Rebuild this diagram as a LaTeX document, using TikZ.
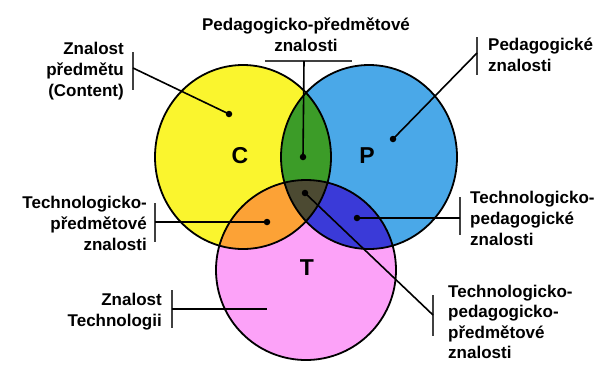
\documentclass[tikz,border=0pt]{standalone}
\usepackage{fontspec}
\setmainfont{Liberation Sans}
\definecolor{cyel}{HTML}{FAF52E}
\definecolor{cblu}{HTML}{4AA8E8}
\definecolor{cpnk}{HTML}{FCA2F8}
\definecolor{cgrn}{HTML}{3C9C28}
\definecolor{corg}{HTML}{FCA236}
\definecolor{cdbl}{HTML}{3A3AD8}
\definecolor{cdrk}{HTML}{4C4A32}
\begin{document}
\begin{tikzpicture}[x=1pt,y=-1pt,
  lbl/.style={font=\bfseries\fontsize{17}{21}\selectfont, inner sep=0pt},
  bar/.style={line width=1.2pt, black!75},
  leader/.style={line width=1.6pt, black},
  outline/.style={line width=1.8pt, black},
  dotn/.style={circle, fill=black, inner sep=0pt, minimum size=6.5pt},
  big/.style={font=\bfseries\fontsize{23}{23}\selectfont, inner sep=0pt}]
\useasboundingbox[fill=white] (0,0) rectangle (604,365);

% base circles
\fill[cyel] (243,157) ellipse [x radius=88pt, y radius=92pt];
\fill[cblu] (369,157) ellipse [x radius=88pt, y radius=92pt];
\fill[cpnk] (306,270) ellipse [x radius=90pt, y radius=90pt];

% overlaps
\begin{scope}
  \clip (243,157) ellipse [x radius=88pt, y radius=92pt];
  \fill[cgrn] (369,157) ellipse [x radius=88pt, y radius=92pt];
  \fill[corg] (306,270) ellipse [x radius=90pt, y radius=90pt];
\end{scope}
\begin{scope}
  \clip (369,157) ellipse [x radius=88pt, y radius=92pt];
  \fill[cdbl] (306,270) ellipse [x radius=90pt, y radius=90pt];
  \clip (243,157) ellipse [x radius=88pt, y radius=92pt];
  \fill[cdrk] (306,270) ellipse [x radius=90pt, y radius=90pt];
\end{scope}

% outlines
\draw[outline] (243,157) ellipse [x radius=88pt, y radius=92pt];
\draw[outline] (369,157) ellipse [x radius=88pt, y radius=92pt];
\draw[outline] (306,270) ellipse [x radius=90pt, y radius=90pt];

% big letters
\node[big] (lC) at (240,156) {C};
\node[big] (lP) at (367,156) {P};
\node[big] (lT) at (307,268) {T};

% texts
\node[lbl, align=right, anchor=east] (tC) at (124,71) {Znalost\\předmětu\\(Content)};
\node[lbl, align=center] (tCP) at (306,35) {Pedagogicko-předmětové\\znalosti};
\node[lbl, align=left, anchor=west] (tP) at (488,55) {Pedagogické\\znalosti};
\node[lbl, align=right, anchor=east] (tCT) at (147,223) {Technologicko-\\předmětové\\znalosti};
\node[lbl, align=left, anchor=west] (tPT) at (470,218) {Technologicko-\\pedagogické\\znalosti};
\node[lbl, align=right, anchor=east] (tT) at (162,312) {Znalost\\Technologii};
\node[lbl, font=\bfseries\fontsize{17}{20.5}\selectfont, align=left, anchor=west] (tCPT) at (448,322) {Technologicko-\\pedagogicko-\\předmětové\\znalosti};

% bars and attachment points
\coordinate (bCa) at (133,52);  \coordinate (bCb) at (133,90);  \coordinate (aC) at (133,68);
\coordinate (bCPa) at (265,61); \coordinate (bCPb) at (352,61); \coordinate (aCP) at (304,61);
\coordinate (bPa) at (477,37);  \coordinate (bPb) at (477,75);  \coordinate (aP) at (477,53);
\coordinate (bCTa) at (155,203); \coordinate (bCTb) at (155,242); \coordinate (aCT) at (155,222);
\coordinate (bPTa) at (460,197); \coordinate (bPTb) at (460,235); \coordinate (aPT) at (460,218);
\coordinate (bTa) at (172,290); \coordinate (bTb) at (172,328); \coordinate (aT) at (172,309);
\coordinate (bCPTa) at (433,295); \coordinate (bCPTb) at (433,336); \coordinate (aCPT) at (433,315);

\draw[bar] (bCa) -- (bCb);
\draw[bar] (bCPa) -- (bCPb);
\draw[bar] (bPa) -- (bPb);
\draw[bar] (bCTa) -- (bCTb);
\draw[bar] (bPTa) -- (bPTb);
\draw[bar] (bTa) -- (bTb);
\draw[bar] (bCPTa) -- (bCPTb);

% dots
\node[dotn] (dC) at (229,114) {};
\node[dotn] (dCP) at (303,157) {};
\node[dotn] (dP) at (393,139) {};
\node[dotn] (dCT) at (267,222) {};
\node[dotn] (dPT) at (357,218) {};
\node[dotn] (dCPT) at (305,193) {};
\coordinate (eT) at (267,309);

% leaders
\draw[leader] (aC) -- (dC.center);
\draw[leader] (aCP) -- (dCP.center);
\draw[leader] (aP) -- (dP.center);
\draw[leader] (aCT) -- (dCT.center);
\draw[leader] (aPT) -- (dPT.center);
\draw[leader] (aT) -- (eT);
\draw[leader] (aCPT) -- (dCPT.center);
\end{tikzpicture}
\end{document}
